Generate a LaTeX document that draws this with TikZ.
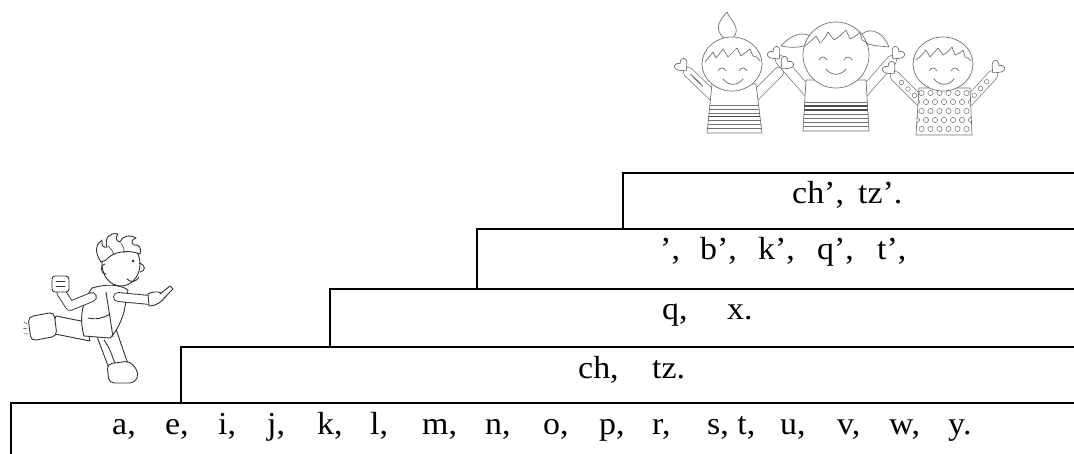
\documentclass[tikz,border=0pt]{standalone}
\usepackage{fontspec}
\setmainfont{Liberation Serif}[FakeStretch=1.06]
\usetikzlibrary{calc}
\newcommand\cellitem[2]{\makebox[#1pt][l]{#2}}
\begin{document}
\begin{tikzpicture}[x=1pt,y=-1pt,
  stair/.style={line width=2.2pt, line cap=rect, line join=miter},
  rowtext/.style={anchor=base west, inner sep=0pt, font=\fontsize{32}{38}\selectfont},
  kid/.style={draw=black!55, line width=0.7pt, line join=round, line cap=round},
  sketch/.style={draw=black!80, line width=0.9pt, line join=round, line cap=round},
  heart/.pic={\path[kid, fill=white] (0,5) .. controls (-3,2) and (-7,-1) .. (-7,-4)
      .. controls (-7,-7.5) and (-2.5,-8) .. (0,-4.5)
      .. controls (2.5,-8) and (7,-7.5) .. (7,-4)
      .. controls (7,-1) and (3,2) .. (0,5) -- cycle;}
]
\useasboundingbox (0,0) rectangle (1074,454);

% ---------- staircase ----------
\coordinate (s1) at (11,403);
\coordinate (s2) at (181,347);
\coordinate (s3) at (330,289);
\coordinate (s4) at (477,229);
\coordinate (s5) at (623,173);
\draw[stair] (11,454) -- (s1) -- (1074,403);
\draw[stair] (s1 -| s2) -- (s2) -- (1074,347);
\draw[stair] (s2 -| s3) -- (s3) -- (1074,289);
\draw[stair] (s3 -| s4) -- (s4) -- (1074,229);
\draw[stair] (s4 -| s5) -- (s5) -- (1074,173);

% ---------- letters on each step ----------
\node[rowtext] (row1) at (112,434) {\cellitem{53}{a,}\cellitem{53}{e,}\cellitem{49}{i,}\cellitem{50}{j,}\cellitem{53}{k,}\cellitem{52}{l,}\cellitem{63}{m,}\cellitem{58}{n,}\cellitem{56}{o,}\cellitem{53}{p,}\cellitem{55}{r,}\cellitem{73}{s, t,}\cellitem{57}{u,}\cellitem{52}{v,}\cellitem{59}{w,}y.};
\node[rowtext] (row2) at (578,378) {\cellitem{74}{ch,}tz.};
\node[rowtext] (row3) at (662,320) {\cellitem{65}{q,}x.};
\node[rowtext] (row4) at (660,260) {\cellitem{40}{’,}\cellitem{58}{b’,}\cellitem{59}{k’,}\cellitem{60}{q’,}t’,};
\node[rowtext] (row5) at (792,204) {\cellitem{66}{ch’,}tz’.};

% ---------- running boy ----------
% back leg and boot
\draw[sketch, fill=white] (86,322) -- (56,316) -- (50,333) -- (90,341) -- cycle;
\draw[sketch, fill=white, rounded corners=5pt] (28,317) -- (54,312) -- (57,336) -- (31,341) -- cycle;
\draw[sketch, line width=0.5pt] (24,322) -- (27,324) (23,328) -- (27,329) (24,334) -- (28,334);
% front leg and boot
\draw[sketch, fill=white] (96,334) -- (116,329) -- (129,367) -- (110,371) -- cycle;
\draw[sketch] (104,340) .. controls (110,348) and (112,356) .. (116,366);
\draw[sketch, fill=white, rounded corners=5pt] (107,364) -- (130,361) -- (139,373) -- (135,383) -- (109,383) -- cycle;
% jacket
\draw[sketch, fill=white] (92,288) .. controls (105,284) and (120,284) .. (128,290)
  -- (124,312) .. controls (120,325) and (115,333) .. (110,338)
  -- (84,336) .. controls (80,322) and (80,305) .. (92,288) -- cycle;
\draw[sketch] (106,292) -- (113,337);
\draw[sketch] (88,318) .. controls (96,320) and (104,318) .. (110,314);
% raised arm with fist
\draw[sketch, double=white, double distance=8pt] (92,297) -- (70,306) -- (61,292);
\draw[sketch, fill=white, rounded corners=3pt] (52,276) rectangle (69,292);
\draw[sketch, line width=0.6pt] (56,281) -- (65,281) (56,286) -- (65,286);
% pointing arm and hand
\draw[sketch, double=white, double distance=8pt] (118,297) -- (150,300);
\draw[sketch, fill=white] (148,294) .. controls (155,290) and (162,292) .. (166,296)
  .. controls (162,302) and (156,306) .. (149,306) -- cycle;
\draw[sketch, fill=white] (160,294) -- (170,286) -- (173,289) -- (164,298);
% head with messy hair
\draw[sketch, fill=white] (121,264) ellipse [x radius=19, y radius=22];
\draw[sketch, fill=white] (101,262) .. controls (94,252) and (96,244) .. (102,240)
  .. controls (101,246) and (104,248) .. (107,247)
  .. controls (104,238) and (110,232) .. (118,234)
  .. controls (115,238) and (116,241) .. (120,242)
  .. controls (122,236) and (130,234) .. (136,238)
  .. controls (131,240) and (131,243) .. (134,245)
  .. controls (139,244) and (142,248) .. (140,254)
  .. controls (128,249) and (112,252) .. (106,260) -- cycle;
\draw[sketch, line width=0.6pt] (108,246) .. controls (112,250) .. (114,255)
  (121,243) .. controls (124,248) .. (124,253);
\draw[sketch] (105,264) .. controls (100,264) and (100,274) .. (106,274);
\fill[black!80] (133,261) circle (1.5);
\draw[sketch] (139,263) .. controls (146,265) and (146,271) .. (140,272);
\draw[sketch] (127,279) .. controls (131,283) and (136,282) .. (139,277);

% ---------- three children ----------
% arms
\draw[kid, double=white, double distance=9pt] (714,97) -- (688,72);
\draw[kid, double=white, double distance=9pt] (754,97) -- (779,72);
\draw[kid, double=white, double distance=9pt] (808,92) -- (780,60);
\draw[kid, double=white, double distance=9pt] (864,92) -- (892,60);
\draw[kid, double=white, double distance=9pt] (921,102) -- (895,76);
\draw[kid, double=white, double distance=9pt] (968,102) -- (993,75);
% striped cuffs of the first child
\foreach \t in {0.55,0.65,0.75}{
  \draw[kid, line width=1pt] ($(714,97)!\t!(688,72) + (-4,-4)$) -- ++(7,7);
}
% hands
\pic[rotate=40] at (683,67) {heart};
\pic[rotate=-40] at (785,65) {heart};
\pic[rotate=40] at (776,55) {heart};
\pic[rotate=-40] at (896,55) {heart};
\pic[rotate=40] at (891,70) {heart};
\pic[rotate=-40] at (996,69) {heart};
% bodies
\draw[kid, fill=white] (712,84) -- (707,133) -- (762,133) -- (756,84) -- cycle;
\begin{scope}
  \clip (712,84) -- (707,133) -- (762,133) -- (756,84) -- cycle;
  \foreach \yy in {105,109,113,120,124,128}{\draw[kid] (700,\yy) -- (770,\yy);}
  \draw[kid, line width=1.6pt, draw=black!70] (700,116.5) -- (770,116.5);
\end{scope}
\draw[kid, fill=white] (806,80) -- (803,131) -- (869,131) -- (866,80) -- cycle;
\begin{scope}
  \clip (806,80) -- (803,131) -- (869,131) -- (866,80) -- cycle;
  \foreach \yy in {102,114,118,122,126}{\draw[kid] (800,\yy) -- (875,\yy);}
  \draw[kid, line width=1.5pt, draw=black!70] (800,106) -- (875,106);
  \draw[kid, line width=1.5pt, draw=black!70] (800,110) -- (875,110);
\end{scope}
\draw[kid, fill=white] (919,88) -- (916,135) -- (972,135) -- (970,88) -- cycle;
\begin{scope}
  \clip (919,88) -- (916,135) -- (972,135) -- (970,88) -- cycle;
  \foreach \yy [count=\r] in {93,102,111,120,129}{
    \foreach \xx in {917,926,...,972}{
      \draw[kid, line width=0.5pt] ({\xx+mod(\r,2)*4.5},\yy) circle (2.6);
    }
  }
\end{scope}
\foreach \t in {0.25,0.5,0.75}{
  \draw[kid, line width=0.5pt] ($(921,102)!\t!(895,76)$) circle (2.3);
  \draw[kid, line width=0.5pt] ($(968,102)!\t!(993,75)$) circle (2.3);
}
% heads
\draw[kid, fill=white] (724,38) .. controls (712,28) and (722,18) .. (727,12)
  .. controls (730,20) and (742,28) .. (733,38);
\draw[kid, fill=white] (732,64) ellipse [x radius=30, y radius=27];
\draw[kid] (705,62) .. controls (710,56) .. (713,52) -- (716,58) .. controls (720,54) .. (723,49)
  -- (728,57) .. controls (732,53) .. (737,48) -- (741,56) .. controls (746,53) .. (750,49)
  -- (753,56) .. controls (757,57) .. (760,61);
\draw[kid, fill=white] (810,36) .. controls (800,30) and (788,38) .. (781,46)
  .. controls (790,48) and (802,48) .. (808,44);
\draw[kid, fill=white] (862,34) .. controls (872,26) and (884,34) .. (889,47)
  .. controls (880,46) and (870,46) .. (865,42);
\draw[kid, fill=white] (836,55) ellipse [x radius=33, y radius=33];
\draw[kid] (805,46) .. controls (812,40) .. (816,36) -- (820,43) .. controls (825,38) .. (828,32)
  -- (834,40) .. controls (840,36) .. (846,30) -- (850,39) .. controls (856,36) .. (860,32)
  -- (862,40) .. controls (866,42) .. (868,46);
\draw[kid, fill=white] (943,64) ellipse [x radius=30, y radius=27];
\draw[kid] (916,60) .. controls (922,55) .. (926,50) -- (930,57) .. controls (934,53) .. (938,48)
  -- (943,55) .. controls (948,52) .. (952,47) -- (955,55) .. controls (960,53) .. (963,50)
  -- (965,57) .. controls (968,58) .. (971,61);
% faces
\foreach \ex/\ey in {722/70,743/70,823/59,848/59,933/70,955/70}{
  \draw[kid] (\ex-4,\ey+1) .. controls (\ex-2,\ey-3) and (\ex+2,\ey-3) .. (\ex+4,\ey+1);
}
\foreach \mx/\my in {733/79,836/69,944/79}{
  \draw[kid, line width=0.8pt] (\mx-10,\my) .. controls (\mx-5,\my+7) and (\mx+5,\my+7) .. (\mx+10,\my);
}
\end{tikzpicture}
\end{document}
